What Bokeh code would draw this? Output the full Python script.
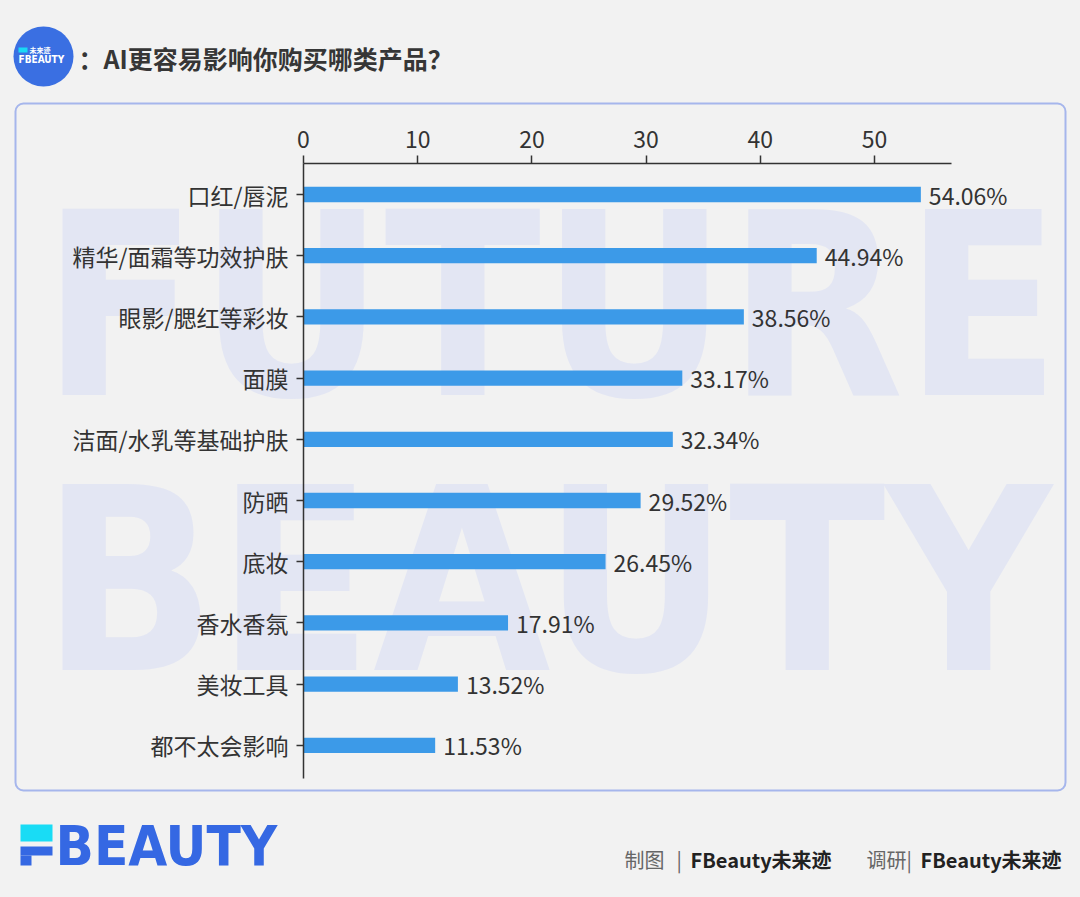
from bokeh.plotting import figure
from bokeh.models import Range1d, Label, BoxAnnotation, FixedTicker, ColumnDataSource
from bokeh.core.properties import value
from bokeh.embed import file_html
from bokeh.resources import INLINE

# ---------------- data ----------------
categories = ["口红/唇泥", "精华/面霜等功效护肤", "眼影/腮红等彩妆", "面膜", "洁面/水乳等基础护肤",
              "防晒", "底妆", "香水香氛", "美妆工具", "都不太会影响"]
values = [54.06, 44.94, 38.56, 33.17, 32.34, 29.52, 26.45, 17.91, 13.52, 11.53]
value_labels = [f"{v:.2f}%" for v in values]
x_ticks = [0, 10, 20, 30, 40, 50]
x_axis_max = 56.76
title_text = "：AI更容易影响你购买哪类产品？"
watermark_lines = ["FUTURE", "BEAUTY"]
footer_items = [("制图", False), ("|", False), ("FBeauty未来迹", True),
                ("调研", False), ("|", False), ("FBeauty未来迹", True)]

# ---------------- layout constants ----------------
W, H = 1080, 897
X0_PX = 303.0        # pixel of value 0
PPU = 11.42          # pixels per x unit
TOP_PX = 163.4       # pixel of top of first row
ROW = 61.2           # pixels per category row
CJK = "Noto Sans CJK SC"
TXT = "#333333"
BG = "#f2f2f2"
N = len(categories)
BASE_FIX = 0.357     # empirical shift (in em) of the alphabetic baseline


def X(px):  # pixel -> data x
    return (px - X0_PX) / PPU


def Y(py):  # pixel -> data y (row index, 0 = top row)
    return (py - TOP_PX) / ROW - 0.5


src = ColumnDataSource(dict(pos=list(range(N)), cat=categories, v=values, lbl=value_labels))

p = figure(width=W, height=H, output_backend="svg", toolbar_location=None, tools="",
           x_range=Range1d(X(0), X(W)), y_range=Range1d(Y(H), Y(0)),
           x_axis_location="above", y_axis_location="left", min_border=0)
p.background_fill_color = BG
p.border_fill_color = BG
p.outline_line_color = None
p.xgrid.visible = False
p.ygrid.visible = False

# ---------------- axes (fixed inside the canvas) ----------------
xa = p.xaxis[0]
xa.fixed_location = -0.5
xa.ticker = FixedTicker(ticks=x_ticks)
xa.bounds = (0, x_axis_max)
xa.major_tick_in = 0
xa.major_tick_out = 8
xa.minor_tick_line_color = None
xa.major_label_standoff = 8
xa.axis_line_color = TXT
xa.axis_line_width = 1.5
xa.major_tick_line_color = TXT
xa.major_tick_line_width = 1.5
xa.major_label_text_font = CJK
xa.major_label_text_font_size = "23px"
xa.major_label_text_color = TXT

ya = p.yaxis[0]
ya.fixed_location = 0
ya.ticker = FixedTicker(ticks=list(range(N)))
ya.major_label_overrides = {i: c for i, c in enumerate(categories)}
ya.bounds = (-0.5, N - 0.45)
ya.major_tick_in = 0
ya.major_tick_out = 7
ya.minor_tick_line_color = None
ya.major_label_standoff = 8
ya.axis_line_color = TXT
ya.axis_line_width = 1.5
ya.major_tick_line_color = TXT
ya.major_tick_line_width = 1.5
ya.major_label_text_font = CJK
ya.major_label_text_font_size = "23px"
ya.major_label_text_color = TXT

# ---------------- card outline ----------------
p.add_layout(BoxAnnotation(left=X(15), right=X(1065), top=Y(103), bottom=Y(790),
                           fill_alpha=0, line_color="#a6b6ec", line_alpha=1, line_width=2,
                           border_radius=8, level="underlay"))

# ---------------- watermark ----------------
WM_SIZE = 255
for txt, base in zip(watermark_lines, [397, 672]):
    p.add_layout(Label(x=X(41), y=Y(base - BASE_FIX * WM_SIZE), text=txt,
                       text_font="DejaVu Sans Condensed", text_font_style="bold",
                       text_font_size=f"{WM_SIZE}px", text_color="#e3e6f3",
                       text_align="left", text_baseline="alphabetic", level="underlay"))

# ---------------- bars + value labels ----------------
p.hbar(y="pos", left=0, right="v", height=0.25, source=src, fill_color="#3c9ae8",
       line_color=None)
p.text(x="v", y="pos", text="lbl", source=src, x_offset=8, text_baseline="middle",
       text_align="left", text_font=value(CJK), text_font_size="23px", text_color=TXT)

# ---------------- header logo + title ----------------
p.scatter(x=[X(43)], y=[Y(56)], size=60, marker="circle", fill_color="#3a6fe2",
          line_color=None)
p.add_layout(BoxAnnotation(left=X(18), right=X(27), top=Y(47), bottom=Y(52),
                           fill_color="#19d9f5", fill_alpha=1, line_color=None))
p.add_layout(Label(x=X(29), y=Y(49.5), text="未来迹", text_font=CJK, text_font_style="bold",
                   text_font_size="7px", text_color="white", text_baseline="middle"))
p.add_layout(Label(x=X(18), y=Y(58.5), text="FBEAUTY", text_font="DejaVu Sans Condensed",
                   text_font_style="bold", text_font_size="10px", text_color="white",
                   text_baseline="middle"))
p.add_layout(Label(x=X(78), y=Y(57), text=title_text, text_font=CJK, text_font_style="bold",
                   text_font_size="25px", text_color="#363636", text_baseline="middle"))

# ---------------- footer logo ----------------
LOGO_BLUE = "#3568e3"
p.add_layout(BoxAnnotation(left=X(20), right=X(52), top=Y(824), bottom=Y(841),
                           fill_color="#19dcf5", fill_alpha=1, line_color=None))
p.add_layout(BoxAnnotation(left=X(20), right=X(52), top=Y(846), bottom=Y(855),
                           fill_color=LOGO_BLUE, fill_alpha=1, line_color=None))
p.add_layout(BoxAnnotation(left=X(20), right=X(31), top=Y(855), bottom=Y(865),
                           fill_color=LOGO_BLUE, fill_alpha=1, line_color=None))
LOGO_SIZE = 56
p.add_layout(Label(x=X(55), y=Y(865 - BASE_FIX * LOGO_SIZE), text="BEAUTY",
                   text_font="DejaVu Sans Condensed", text_font_style="bold",
                   text_font_size=f"{LOGO_SIZE}px", text_color=LOGO_BLUE,
                   text_baseline="alphabetic"))

# ---------------- footer credits ----------------
footer_x = [624, 676, 690, 866, 906, 920]
for (txt, bold), fx in zip(footer_items, footer_x):
    p.add_layout(Label(x=X(fx), y=Y(859), text=txt, text_font=CJK,
                       text_font_style="bold" if bold else "normal", text_font_size="20px",
                       text_color="#222222" if bold else "#666666", text_baseline="middle"))

html = file_html(p, INLINE)
html = html.replace("<head>", "<head><style>html,body{background:#f2f2f2;}</style>", 1)
open("out.html", "w").write(html)
